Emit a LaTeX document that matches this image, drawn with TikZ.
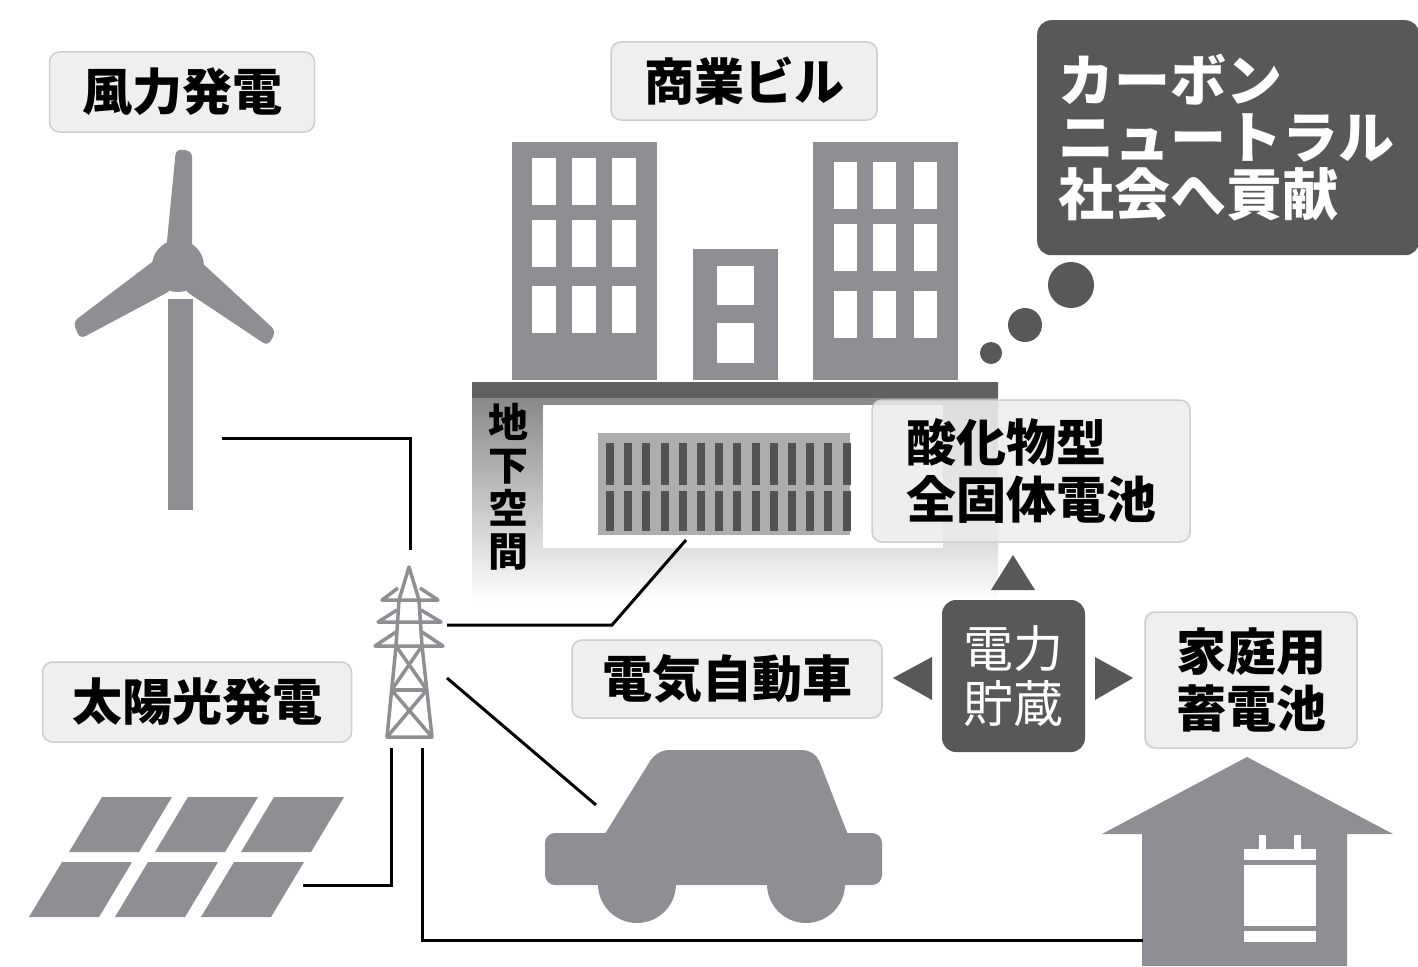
\documentclass[tikz,border=0pt]{standalone}
\usepackage{fontspec}
\newfontfamily\jp{Noto Sans CJK JP}

\definecolor{icongray}{RGB}{142,142,147}
\definecolor{slate}{RGB}{88,88,88}
\definecolor{tagfill}{RGB}{236,236,236}
\definecolor{tagline}{RGB}{205,205,205}

\tikzset{
  icon/.style={fill=icongray},
  wire/.style={draw=black, line width=3pt},
  mast/.style={draw=icongray, line width=3.5pt, line join=round},
  tagbox/.style={draw=tagline, line width=1.5pt, fill=tagfill, fill opacity=0.85,
    text opacity=1, rounded corners=10pt, inner sep=0pt,
    font=\jp\bfseries\fontsize{50}{57}\selectfont},
  darktag/.style={fill=slate, rounded corners=14pt, text=white, inner sep=0pt},
}

\begin{document}
\begin{tikzpicture}[x=1pt, y=-1pt]
  \useasboundingbox (0,0) rectangle (1418,966);

  % wind turbine
  \fill[icon] (168,299) rectangle (193,510);
  \fill[icon, rounded corners=6pt] (165,262) -- (176,149) -- (192,151) -- (192,262) -- cycle;
  \fill[icon, rounded corners=6pt] (168,250) -- (73,322) -- (80,339) -- (172,290) -- cycle;
  \fill[icon, rounded corners=6pt] (188,250) -- (276,331) -- (268,346) -- (184,290) -- cycle;
  \fill[icon] (178,266) circle (26);

  % solar panels, two rows of three
  \foreach \r in {0,1}
    \foreach \c in {0,1,2}
      \fill[icon] ({102-40*\r+86*\c},{797+65*\r}) -- ++(70,0) -- ++(-33,55) -- ++(-70,0) -- cycle;

  % pylon
  \draw[mast] (387,737) -- (396,646) -- (399,600) -- (409,567) -- (419,600) -- (422,646) -- (432,737) -- cycle;
  \draw[mast] (398,588) -- (382,600) -- (438,600) -- (420,588);
  \draw[mast] (397,610) -- (378,622) -- (441,622) -- (421,610);
  \draw[mast] (396,632) -- (375,646) -- (443,646) -- (422,632);
  \draw[mast] (391.6,690) -- (426.8,690);
  \draw[mast] (396,646) -- (426.8,690) (422,646) -- (391.6,690);
  \draw[mast] (391.6,690) -- (432,737) (426.8,690) -- (387,737);

  % office buildings
  \fill[icon] (512,142) rectangle (657,380);
  \foreach \x in {532,572,612}
    \foreach \y in {158,220,286}
      \fill[white] (\x,\y) rectangle ++(24,47);
  \fill[icon] (693,249) rectangle (778,380);
  \fill[white] (717,266) rectangle (754,305);
  \fill[white] (717,323) rectangle (754,363);
  \fill[icon] (813,142) rectangle (958,380);
  \foreach \x in {834,873,914}
    \foreach \y in {162,224,291}
      \fill[white] (\x,\y) rectangle ++(23,47);

  % underground space and battery pack
  \shade[top color=black!50, bottom color=white] (472,382) rectangle (998,602);
  \fill[black!62] (472,382) rectangle (998,398);
  \fill[white] (543,405) rectangle (943,548);
  \fill[black!32] (598,433) rectangle (850,535);
  \foreach \i in {0,...,13} {
    \fill[black!68] ({606+18.2*\i},443) rectangle ++(8,42);
    \fill[black!68] ({606+18.2*\i},491) rectangle ++(8,40);
  }
  \node[font=\jp\bfseries\fontsize{40}{43}\selectfont, align=center, inner sep=0pt]
    (undertag) at (508,487) {地\\下\\空\\間};

  % house with home battery
  \fill[icon] (1247,757) -- (1393,834) -- (1347,834) -- (1347,966) -- (1142,966)
    -- (1142,834) -- (1102,834) -- cycle;
  \fill[white] (1259,835) rectangle (1266,850);
  \fill[white] (1294,835) rectangle (1301,850);
  \fill[white] (1244,849) rectangle (1316,942);
  \fill[icongray] (1244,860) rectangle (1316,865);
  \fill[icongray] (1244,926) rectangle (1316,931);

  % car
  \fill[icon, rounded corners=10pt] (545,833) rectangle (882,885);
  \fill[icon, rounded corners=12pt] (598,845) -- (657,750) -- (815,750) -- (852,845) -- cycle;
  \fill[icon] (637,884) circle (39);
  \fill[icon] (806,884) circle (39);

  % wire ends
  \coordinate (windfoot) at (222,438);
  \coordinate (towertop) at (410,550);
  \coordinate (solarend) at (303,885);
  \coordinate (legleft) at (391,748);
  \coordinate (legright) at (422,748);
  \coordinate (homeend) at (1143,940);
  \coordinate (armright) at (447,625);
  \coordinate (bend) at (612,625);
  \coordinate (packfoot) at (686,540);
  \coordinate (braceright) at (447,678);
  \coordinate (carnose) at (596,805);

  % wires
  \draw[wire] (windfoot) -| (towertop);
  \draw[wire] (solarend) -| (legleft);
  \draw[wire] (legright) |- (homeend);
  \draw[wire] (armright) -- (bend) -- (packfoot);
  \draw[wire] (braceright) -- (carnose);

  % labels
  \node[tagbox, minimum width=265pt, minimum height=80pt] (windtag) at (182,92) {風力発電};
  \node[tagbox, minimum width=266pt, minimum height=78pt] (officetag) at (744,81) {商業ビル};
  \node[tagbox, minimum width=309pt, minimum height=80pt] (solartag) at (197,702) {太陽光発電};
  \node[tagbox, minimum width=310pt, minimum height=78pt] (evtag) at (727,679) {電気自動車};
  \node[tagbox, minimum width=212pt, minimum height=136pt, align=center] (hometag) at (1251,680) {家庭用\\蓄電池};
  \node[tagbox, minimum width=318pt, minimum height=142pt, align=left] (celltag) at (1031,471) {酸化物型\\全固体電池};

  % power storage with arrows
  \node[darktag, minimum width=143pt, minimum height=152pt, align=center,
    font=\jp\fontsize{50}{55}\selectfont] (store) at (1013.5,676) {電力\\貯蔵};
  \fill[slate] (1013,555) -- (1035,590) -- (991,590) -- cycle;
  \fill[slate] (893,678) -- (932,657) -- (932,700) -- cycle;
  \fill[slate] (1133,678) -- (1095,657) -- (1095,700) -- cycle;

  % thought bubble
  \fill[slate] (1071,285) circle (23);
  \fill[slate] (1025,325) circle (17);
  \fill[slate] (991,353) circle (11);
  \node[darktag, anchor=north west, minimum height=235pt, text width=340pt,
    inner xsep=21pt, align=left, font=\jp\bfseries\fontsize{56}{57}\selectfont]
    (carbon) at (1037,20) {カーボン\\ニュートラル\\社会へ貢献};
\end{tikzpicture}
\end{document}
